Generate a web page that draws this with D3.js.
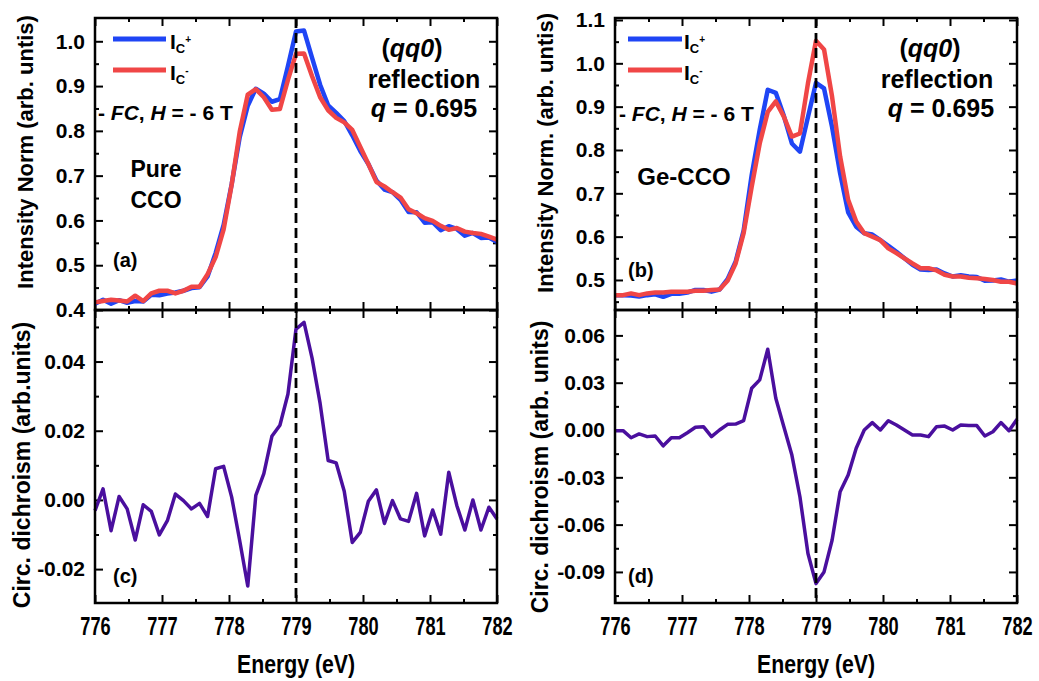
<!DOCTYPE html>
<html>
<head>
<meta charset="utf-8">
<script src="https://cdn.jsdelivr.net/npm/d3@7"></script>
<style>
  html, body { margin: 0; padding: 0; background: #fff; }
  svg { display: block; font-family: "Liberation Sans", Arial, sans-serif; font-weight: bold; }
</style>
</head>
<body>
<svg id="chart" width="1039" height="681"></svg>
<script>
// Photon energy of each scan point (eV)
const energy = [776.00, 776.12, 776.24, 776.36, 776.48, 776.60, 776.72, 776.84, 776.96, 777.08,
  777.20, 777.32, 777.44, 777.56, 777.68, 777.80, 777.92, 778.04, 778.16, 778.28,
  778.40, 778.52, 778.64, 778.76, 778.88, 779.00, 779.12, 779.24, 779.36, 779.48,
  779.60, 779.72, 779.84, 779.96, 780.08, 780.20, 780.32, 780.44, 780.56, 780.68,
  780.80, 780.92, 781.04, 781.16, 781.28, 781.40, 781.52, 781.64, 781.76, 781.88, 782.00];

// Pure CCO: normalised intensity for C+ and C- polarisation
const pureCplus = [0.414, 0.423, 0.414, 0.422, 0.416, 0.420, 0.419, 0.434, 0.433, 0.437,
  0.439, 0.443, 0.449, 0.451, 0.475, 0.527, 0.590, 0.681, 0.786, 0.856,
  0.894, 0.883, 0.865, 0.871, 0.945, 1.022, 1.024, 0.963, 0.903, 0.857,
  0.840, 0.822, 0.790, 0.755, 0.726, 0.689, 0.669, 0.663, 0.646, 0.619,
  0.618, 0.595, 0.596, 0.578, 0.587, 0.581, 0.566, 0.572, 0.561, 0.562, 0.552];
const pureCminus = [0.417, 0.420, 0.423, 0.421, 0.419, 0.432, 0.420, 0.437, 0.443, 0.443,
  0.437, 0.443, 0.452, 0.452, 0.480, 0.518, 0.580, 0.680, 0.798, 0.881,
  0.893, 0.875, 0.847, 0.849, 0.914, 0.972, 0.973, 0.922, 0.875, 0.846,
  0.829, 0.819, 0.802, 0.764, 0.726, 0.686, 0.676, 0.663, 0.651, 0.625,
  0.616, 0.605, 0.599, 0.588, 0.579, 0.583, 0.575, 0.572, 0.570, 0.564, 0.557];
// Pure CCO: circular dichroism
const pureCD = [-0.0031, 0.0032, -0.0089, 0.0010, -0.0026, -0.0116, -0.0014, -0.0033, -0.0101, -0.0060,
  0.0017, -0.0002, -0.0026, -0.0010, -0.0048, 0.0090, 0.0097, 0.0008, -0.0118, -0.0249,
  0.0013, 0.0076, 0.0184, 0.0216, 0.0306, 0.0494, 0.0513, 0.0410, 0.0279, 0.0114,
  0.0107, 0.0025, -0.0123, -0.0094, -0.0004, 0.0029, -0.0068, -0.0002, -0.0055, -0.0062,
  0.0019, -0.0104, -0.0029, -0.0099, 0.0080, -0.0016, -0.0087, 0.0000, -0.0087, -0.0021, -0.0055];

// Ge-CCO: normalised intensity for C+ and C- polarisation
const geCplus = [0.465, 0.465, 0.464, 0.462, 0.465, 0.467, 0.461, 0.468, 0.468, 0.471,
  0.477, 0.477, 0.473, 0.478, 0.502, 0.542, 0.614, 0.742, 0.847, 0.939,
  0.932, 0.879, 0.815, 0.796, 0.876, 0.955, 0.942, 0.853, 0.746, 0.656,
  0.623, 0.608, 0.605, 0.592, 0.579, 0.565, 0.550, 0.535, 0.524, 0.523,
  0.524, 0.515, 0.508, 0.511, 0.508, 0.507, 0.498, 0.499, 0.501, 0.496, 0.499];
const geCminus = [0.465, 0.465, 0.469, 0.465, 0.469, 0.471, 0.471, 0.473, 0.473, 0.473,
  0.475, 0.475, 0.477, 0.478, 0.498, 0.538, 0.608, 0.715, 0.815, 0.888,
  0.912, 0.877, 0.831, 0.838, 0.954, 1.052, 1.032, 0.923, 0.785, 0.685,
  0.635, 0.608, 0.600, 0.592, 0.573, 0.562, 0.550, 0.538, 0.527, 0.527,
  0.522, 0.512, 0.508, 0.508, 0.505, 0.504, 0.502, 0.500, 0.496, 0.496, 0.492];
// Ge-CCO: circular dichroism
const geCD = [-0.0004, -0.0004, -0.0049, -0.0025, -0.0042, -0.0038, -0.0100, -0.0049, -0.0049, -0.0017,
  0.0017, 0.0021, -0.0042, 0.0000, 0.0036, 0.0038, 0.0059, 0.0265, 0.0318, 0.0512,
  0.0201, 0.0021, -0.0159, -0.0423, -0.0783, -0.0974, -0.0900, -0.0699, -0.0392, -0.0286,
  -0.0116, 0.0000, 0.0047, 0.0000, 0.0059, 0.0032, 0.0000, -0.0032, -0.0032, -0.0042,
  0.0021, 0.0025, 0.0000, 0.0032, 0.0028, 0.0028, -0.0038, -0.0011, 0.0047, -0.0004, 0.0068];

// Tick values
const energyTicks = [776, 777, 778, 779, 780, 781, 782];
const energyMinor = [776.5, 777.5, 778.5, 779.5, 780.5, 781.5];
const pureIntTicks = [0.4, 0.5, 0.6, 0.7, 0.8, 0.9, 1.0];
const pureIntMinor = [0.45, 0.55, 0.65, 0.75, 0.85, 0.95];
const geIntTicks = [0.5, 0.6, 0.7, 0.8, 0.9, 1.0, 1.1];
const geIntMinor = [0.45, 0.55, 0.65, 0.75, 0.85, 0.95, 1.05];
const pureCDTicks = [-0.02, 0.00, 0.02, 0.04];
const pureCDMinor = [-0.01, 0.01, 0.03, 0.05];
const geCDTicks = [-0.09, -0.06, -0.03, 0.00, 0.03, 0.06];
const geCDMinor = [-0.105, -0.075, -0.045, -0.015, 0.015, 0.045];

const markerEnergy = 779;

const BLUE = "#1f45f5", RED = "#f04646", PURPLE = "#4a0f9e";

const svg = d3.select("#chart");

const cols = [{ x0: 95, x1: 497 }, { x0: 615, x1: 1017 }];
const rowTop = { y0: 18, y1: 310 }, rowBot = { y0: 310, y1: 603 };

function drawPanel(opt) {
  const { col, row, domain, ticks, minor, fmt, xLabels } = opt;
  const x = d3.scaleLinear().domain([776, 782]).range([col.x0, col.x1]);
  const y = d3.scaleLinear().domain(domain).range([row.y1, row.y0]);
  const g = svg.append("g");

  const styleAxis = sel => {
    sel.select(".domain").remove();
    sel.selectAll(".tick line").attr("stroke", "#000").attr("stroke-width", 2);
    sel.selectAll(".tick text")
      .attr("fill", "#000")
      .attr("font-family", "'Liberation Sans', Arial, sans-serif")
      .attr("font-weight", "bold");
  };

  // left axis with labels
  g.append("g").attr("transform", `translate(${col.x0},0)`)
    .call(d3.axisLeft(y).tickValues(ticks).tickSize(-8).tickPadding(10).tickFormat(fmt))
    .call(styleAxis)
    .call(s => s.selectAll(".tick text").attr("font-size", 21));
  g.append("g").attr("transform", `translate(${col.x0},0)`)
    .call(d3.axisLeft(y).tickValues(minor).tickSize(-4).tickFormat(""))
    .call(styleAxis);
  // right axis
  g.append("g").attr("transform", `translate(${col.x1},0)`)
    .call(d3.axisRight(y).tickValues(ticks).tickSize(-8).tickFormat(""))
    .call(styleAxis);
  g.append("g").attr("transform", `translate(${col.x1},0)`)
    .call(d3.axisRight(y).tickValues(minor).tickSize(-4).tickFormat(""))
    .call(styleAxis);
  // top axis
  g.append("g").attr("transform", `translate(0,${row.y0})`)
    .call(d3.axisTop(x).tickValues(energyTicks).tickSize(-8).tickFormat(""))
    .call(styleAxis);
  g.append("g").attr("transform", `translate(0,${row.y0})`)
    .call(d3.axisTop(x).tickValues(energyMinor).tickSize(-4).tickFormat(""))
    .call(styleAxis);
  // bottom axis
  const bottom = g.append("g").attr("transform", `translate(0,${row.y1})`)
    .call(d3.axisBottom(x).tickValues(energyTicks).tickSize(-8).tickPadding(14)
      .tickFormat(xLabels ? d3.format("d") : ""))
    .call(styleAxis);
  if (xLabels) {
    bottom.selectAll(".tick text")
      .attr("font-size", 26)
      .attr("dy", "0.68em")
      .attr("transform", "scale(0.7,1)");
  }
  g.append("g").attr("transform", `translate(0,${row.y1})`)
    .call(d3.axisBottom(x).tickValues(energyMinor).tickSize(-4).tickFormat(""))
    .call(styleAxis);

  return { g, x, y };
}

function drawLine(p, values, color, width) {
  const line = d3.line().x((d, i) => p.x(energy[i])).y(d => p.y(d));
  p.g.append("path")
    .datum(values)
    .attr("d", line)
    .attr("fill", "none")
    .attr("stroke", color)
    .attr("stroke-width", width)
    .attr("stroke-linejoin", "round")
    .attr("stroke-linecap", "butt");
}

function frame(col, row) {
  svg.append("rect")
    .attr("x", col.x0).attr("y", row.y0)
    .attr("width", col.x1 - col.x0).attr("height", row.y1 - row.y0)
    .attr("fill", "none").attr("stroke", "#000").attr("stroke-width", 2.5);
}

const f1 = d => d.toFixed(1);
const f2 = d => (Math.abs(d) < 1e-9 ? 0 : d).toFixed(2);

// ---- panels ----
const pa = drawPanel({ col: cols[0], row: rowTop, domain: [0.4, 1.052], ticks: pureIntTicks, minor: pureIntMinor, fmt: f1, xLabels: false });
const pc = drawPanel({ col: cols[0], row: rowBot, domain: [-0.0298, 0.0549], ticks: pureCDTicks, minor: pureCDMinor, fmt: f2, xLabels: true });
const pb = drawPanel({ col: cols[1], row: rowTop, domain: [0.4307, 1.1046], ticks: geIntTicks, minor: geIntMinor, fmt: f1, xLabels: false });
const pd = drawPanel({ col: cols[1], row: rowBot, domain: [-0.1097, 0.0761], ticks: geCDTicks, minor: geCDMinor, fmt: f2, xLabels: true });

drawLine(pa, pureCplus, BLUE, 4.5);
drawLine(pa, pureCminus, RED, 4.5);
drawLine(pc, pureCD, PURPLE, 3.5);
drawLine(pb, geCplus, BLUE, 4.5);
drawLine(pb, geCminus, RED, 4.5);
drawLine(pd, geCD, PURPLE, 3.5);

// dashed marker across both rows
[pa, pb].forEach(p => {
  svg.append("line")
    .attr("x1", p.x(markerEnergy)).attr("x2", p.x(markerEnergy))
    .attr("y1", rowTop.y0).attr("y2", rowBot.y1)
    .attr("stroke", "#000").attr("stroke-width", 2.8)
    .attr("stroke-dasharray", "10,5");
});

frame(cols[0], rowTop); frame(cols[0], rowBot);
frame(cols[1], rowTop); frame(cols[1], rowBot);

// ---- text ----
function text(x, y, str, size, anchor) {
  return svg.append("text").attr("x", x).attr("y", y)
    .attr("font-size", size).attr("text-anchor", anchor || "start").attr("fill", "#000").text(str);
}

// legends
function legend(lx0, lx1, tx) {
  [[BLUE, 39, 49, "+"], [RED, 70, 80, "-"]].forEach(([c, ly, ty, sign]) => {
    svg.append("line").attr("x1", lx0).attr("x2", lx1).attr("y1", ly).attr("y2", ly)
      .attr("stroke", c).attr("stroke-width", 5);
    const t = text(tx, ty, "I", 21);
    t.append("tspan").attr("font-size", 13).attr("dy", 4).text("C");
    t.append("tspan").attr("font-size", 10).attr("dy", -10).text(sign);
  });
}
legend(113, 166, 170);
legend(628, 682, 684);

// field-cooling note
function fieldNote(x, y) {
  const t = svg.append("text").attr("x", x).attr("y", y).attr("font-size", 21).attr("fill", "#000")
    .attr("xml:space", "preserve");
  t.append("tspan").text("- ");
  t.append("tspan").attr("font-style", "italic").text("FC");
  t.append("tspan").text(", ");
  t.append("tspan").attr("font-style", "italic").text("H");
  t.append("tspan").text(" = - 6 T");
}
fieldNote(98, 120);
fieldNote(619, 121);

// reflection annotation
function reflection(cx1, cx2, cx3) {
  const t = svg.append("text").attr("x", cx1).attr("y", 57).attr("font-size", 25).attr("text-anchor", "middle");
  t.append("tspan").text("(");
  t.append("tspan").attr("font-style", "italic").text("qq0");
  t.append("tspan").text(")");
  text(cx2, 88, "reflection", 25, "middle");
  const q = svg.append("text").attr("x", cx3).attr("y", 117).attr("font-size", 25).attr("text-anchor", "middle");
  q.append("tspan").attr("font-style", "italic").text("q");
  q.append("tspan").text(" = 0.695");
}
reflection(412, 424, 424);
reflection(930, 937, 941);

// sample labels
text(156, 177, "Pure", 23, "middle");
text(156, 208, "CCO", 23, "middle");
text(684, 185, "Ge-CCO", 24, "middle");

// panel letters
text(113, 267, "(a)", 20);
text(628, 277, "(b)", 20);
text(113, 583, "(c)", 20);
text(628, 583, "(d)", 20);

// axis titles
function vTitle(x, y, str, size) {
  svg.append("text").attr("transform", `translate(${x},${y}) rotate(-90)`)
    .attr("text-anchor", "middle").attr("dominant-baseline", "central")
    .attr("font-size", size).text(str);
}
vTitle(25, 152, "Intensity Norm (arb. untis)", 22);
vTitle(22, 465, "Circ. dichroism (arb.units)", 23);
vTitle(545, 153, "Intensity Norm. (arb. untis)", 22);
vTitle(540, 467, "Circ. dichroism (arb. units)", 23);

function xTitle(cx) {
  svg.append("text").attr("transform", `translate(${cx},673) scale(0.85,1)`)
    .attr("text-anchor", "middle").attr("font-size", 25).text("Energy (eV)");
}
xTitle(296);
xTitle(816);
</script>
</body>
</html>
